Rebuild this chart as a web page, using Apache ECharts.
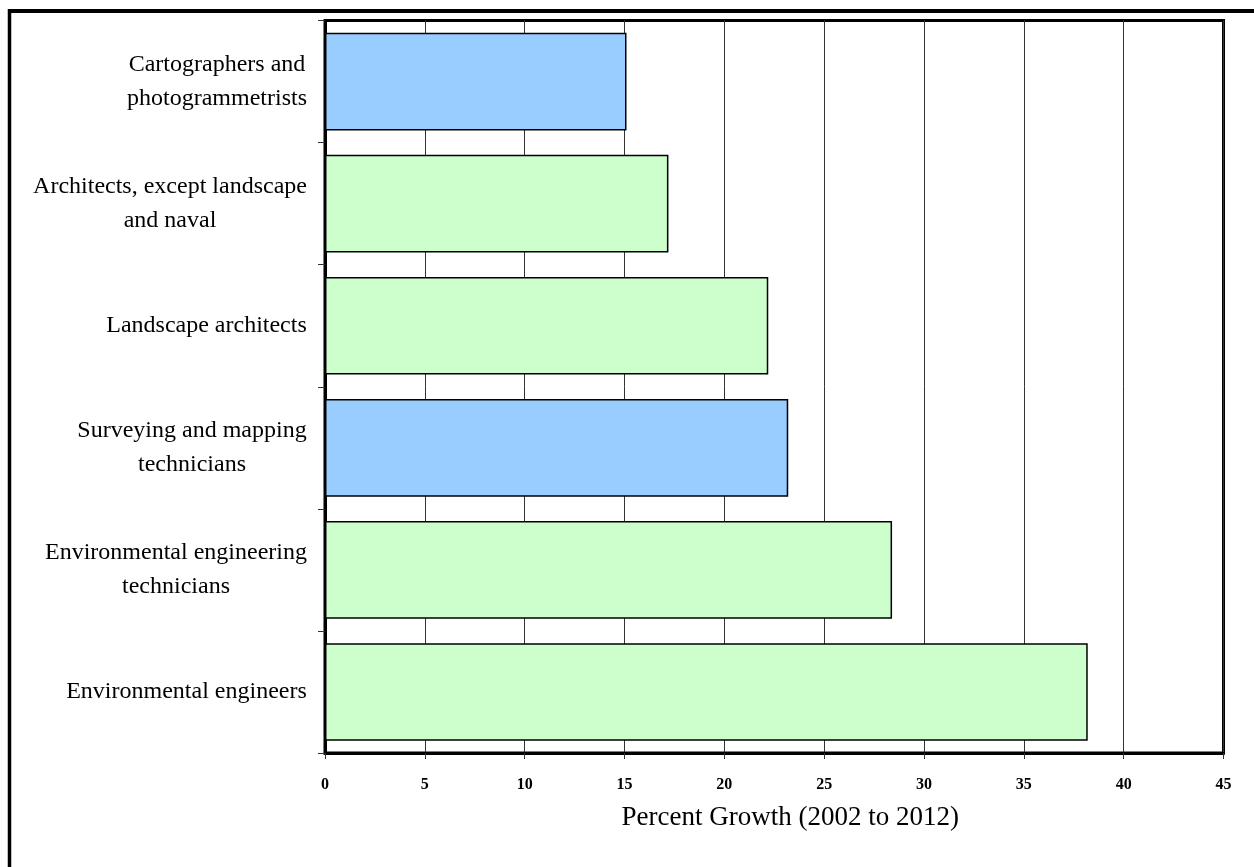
<!DOCTYPE html>
<html>
<head>
<meta charset="utf-8">
<script src="https://cdn.jsdelivr.net/npm/echarts@6/dist/echarts.min.js"></script>
<style>
html,body{margin:0;padding:0;background:#fff;}
#chart{width:1254px;height:867px;}
</style>
</head>
<body>
<div id="chart"></div>
<script>
// Data (top to bottom as in the chart)
const categories = [
  "Cartographers and\nphotogrammetrists",
  "Architects, except landscape\nand naval",
  "Landscape architects",
  "Surveying and mapping\ntechnicians",
  "Environmental engineering\ntechnicians",
  "Environmental engineers"
];
const growth = [15.1, 17.2, 22.2, 23.2, 28.4, 38.2];
const geospatial = [true, false, false, true, false, false];
const xTicks = [0, 5, 10, 15, 20, 25, 30, 35, 40, 45];
const axisTitle = "Percent Growth (2002 to 2012)";

const BLUE = '#99ccff', GREEN = '#ccffcc';
const serif = '"Liberation Serif", "DejaVu Serif", serif';
const labelFontSize = 24;

// measure text to center each wrapped line within its label block
const mctx = document.createElement('canvas').getContext('2d');
mctx.font = labelFontSize + 'px ' + serif;
function centeredLabel(v) {
  const lines = v.split('\n');
  const w = Math.ceil(Math.max.apply(null, lines.map(l => mctx.measureText(l).width)));
  return lines.map(l => '{a|' + l + '}').join('\n') + '\u0000' + w;
}

const chart = echarts.init(document.getElementById('chart'), null, {renderer: 'canvas'});
const richStyles = {};
categories.forEach((c, i) => {
  const lines = c.split('\n');
  const w = Math.ceil(Math.max.apply(null, lines.map(l => mctx.measureText(l).width)));
  richStyles['c' + i] = {width: w, align: 'center', fontFamily: serif, fontSize: labelFontSize, lineHeight: 34, color: '#000'};
});

chart.setOption({
  animation: false,
  backgroundColor: '#fff',
  grid: {
    left: 325, top: 20.5, right: 30.5, bottom: 114,
    show: true, borderColor: '#000', borderWidth: 3, backgroundColor: '#fff',
    containLabel: false
  },
  xAxis: {
    type: 'value',
    min: xTicks[0], max: xTicks[xTicks.length - 1], interval: xTicks[1] - xTicks[0],
    axisLine: {show: true, lineStyle: {color: '#000', width: 3}},
    axisTick: {show: true, length: 6, lineStyle: {color: '#333', width: 1}},
    splitLine: {show: true, lineStyle: {color: '#333', width: 1}},
    axisLabel: {
      margin: 24, color: '#000', fontFamily: serif, fontSize: 16, fontWeight: 'bold'
    },
    name: axisTitle,
    nameLocation: 'middle',
    nameGap: 51,
    nameTextStyle: {fontFamily: serif, fontSize: 27, color: '#000', padding: [0, 0, 0, 32]}
  },
  yAxis: {
    type: 'category',
    inverse: true,
    data: categories,
    axisLine: {show: true, lineStyle: {color: '#000', width: 3}},
    axisTick: {show: true, length: 7, lineStyle: {color: '#333', width: 1}},
    splitLine: {show: false},
    axisLabel: {
      margin: 18,
      align: 'right',
      formatter: (v, idx) => {
        const i = categories.indexOf(v);
        return v.split('\n').map(l => '{c' + i + '|' + l + '}').join('\n');
      },
      rich: richStyles
    }
  },
  series: [{
    type: 'bar',
    barCategoryGap: '20%',
    data: growth.map((v, i) => ({
      value: v,
      itemStyle: {color: geospatial[i] ? BLUE : GREEN}
    })),
    itemStyle: {borderColor: '#000', borderWidth: 1.5},
    emphasis: {disabled: true}
  }],
  graphic: [
    {type: 'line', shape: {x1: 9.5, y1: 11, x2: 1254, y2: 11}, style: {stroke: '#000', lineWidth: 4}, silent: true},
    {type: 'line', shape: {x1: 9.5, y1: 9, x2: 9.5, y2: 867}, style: {stroke: '#000', lineWidth: 3.5}, silent: true}
  ]
});
</script>
</body>
</html>
